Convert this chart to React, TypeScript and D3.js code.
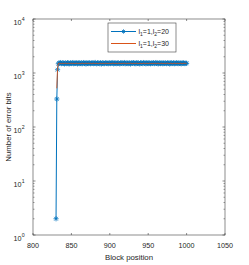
import * as d3 from 'd3';

const BLUE = '#0072BD';
const ORANGE = '#D95319';

// block positions where the curves start
const blueStart = [830, 831, 832];
const blueStartValues = [2, 330, 1150];
const orangeStart = [831, 832];
const orangeStartValues = [520, 1200];

// plateau from block 833 to 1000
const plateauStart = 833;
const bluePlateau = [
  1480, 1530, 1510, 1560, 1490, 1520, 1545, 1500, 1475, 1535,
  1515, 1490, 1550, 1525, 1470, 1505, 1540, 1495, 1520, 1560,
  1485, 1510, 1530, 1500, 1545, 1475, 1520, 1555, 1490, 1505,
  1535, 1480, 1515, 1560, 1500, 1525, 1470, 1540, 1510, 1495,
  1550, 1520, 1485, 1530, 1505, 1545, 1490, 1515, 1565, 1500,
  1480, 1535, 1510, 1525, 1495, 1550, 1470, 1520, 1540, 1505,
  1490, 1530, 1555, 1500, 1515, 1485, 1545, 1520, 1495, 1535,
  1510, 1560, 1480, 1525, 1500, 1540, 1490, 1515, 1550, 1505,
  1475, 1530, 1520, 1545, 1495, 1510, 1560, 1485, 1535, 1500,
  1525, 1490, 1545, 1515, 1470, 1540, 1505, 1530, 1555, 1495,
  1520, 1485, 1550, 1510, 1535, 1500, 1475, 1545, 1515, 1525,
  1490, 1560, 1505, 1530, 1480, 1540, 1520, 1495, 1550, 1510,
  1485, 1535, 1500, 1525, 1545, 1490, 1515, 1560, 1505, 1530,
  1475, 1520, 1540, 1495, 1510, 1550, 1485, 1525, 1500, 1535,
  1515, 1490, 1545, 1505, 1530, 1470, 1520, 1555, 1495, 1510,
  1540, 1485, 1525, 1500, 1550, 1515, 1490, 1535, 1505, 1520,
  1480, 1545, 1510, 1530, 1495, 1525, 1500, 1515,
];
const orangePlateau = [
  1510, 1500, 1520, 1505, 1495, 1515, 1510, 1490, 1505, 1520,
  1500, 1510, 1495, 1515, 1505, 1490, 1510, 1520, 1500, 1505,
  1515, 1495, 1500, 1510, 1520, 1490, 1505, 1515, 1500, 1495,
  1510, 1505, 1520, 1500, 1490, 1515, 1505, 1510, 1495, 1520,
  1500, 1505, 1515, 1490, 1510, 1500, 1520, 1505, 1495, 1510,
  1515, 1500, 1490, 1505, 1520, 1510, 1495, 1500, 1515, 1505,
  1490, 1510, 1520, 1500, 1505, 1495, 1515, 1510, 1500, 1490,
  1505, 1520, 1510, 1495, 1500, 1515, 1505, 1490, 1510, 1520,
  1500, 1505, 1495, 1515, 1510, 1500, 1520, 1490, 1505, 1510,
  1495, 1515, 1500, 1505, 1520, 1510, 1490, 1500, 1515, 1505,
  1495, 1510, 1520, 1500, 1505, 1490, 1515, 1510, 1500, 1495,
  1505, 1520, 1510, 1500, 1490, 1515, 1505, 1495, 1510, 1520,
  1500, 1505, 1515, 1490, 1510, 1500, 1520, 1505, 1495, 1510,
  1515, 1500, 1490, 1505, 1520, 1510, 1495, 1500, 1515, 1505,
  1490, 1510, 1520, 1500, 1505, 1495, 1515, 1510, 1500, 1490,
  1505, 1520, 1510, 1495, 1500, 1515, 1505, 1490, 1510, 1520,
  1500, 1505, 1495, 1515, 1510, 1500, 1520, 1490,
];

const xTicks = [800, 850, 900, 950, 1000, 1050];
const yExponents = [0, 1, 2, 3, 4];
const legendLabels = [
  { color: BLUE, l1: '1', l2: '20', marker: true },
  { color: ORANGE, l1: '1', l2: '30', marker: false },
];

type Pt = [number, number];

function buildSeries(startX: number[], startY: number[], plateau: number[]): Pt[] {
  const pts: Pt[] = startX.map((x, i) => [x, startY[i]]);
  plateau.forEach((v, i) => pts.push([plateauStart + i, v]));
  return pts;
}

const blueData = buildSeries(blueStart, blueStartValues, bluePlateau);
const orangeData = buildSeries(orangeStart, orangeStartValues, orangePlateau);

const W = 249;
const H = 265;
const left = 33;
const right = 225;
const top = 19;
const bottom = 235;
const AXIS = '#404040';
const FONT = 'Liberation Sans, Arial, sans-serif';

function Star({ x, y, r, color }: { x: number; y: number; r: number; color: string }) {
  const d = [0, 45, 90, 135]
    .map(a => {
      const rad = (a * Math.PI) / 180;
      const dx = Math.cos(rad) * r;
      const dy = Math.sin(rad) * r;
      return `M${x - dx},${y - dy}L${x + dx},${y + dy}`;
    })
    .join('');
  return <path d={d} stroke={color} strokeWidth={0.8} fill="none" />;
}

export default function App() {
  const x = d3.scaleLinear().domain([800, 1050]).range([left, right]);
  const y = d3.scaleLog().domain([1, 1e4]).range([bottom, top]);
  const line = d3
    .line<Pt>()
    .x(d => x(d[0]))
    .y(d => y(d[1]));

  const minor: number[] = [];
  for (let e = 0; e < 4; e++) for (let m = 2; m <= 9; m++) minor.push(m * Math.pow(10, e));

  return (
    <svg
      width={W}
      height={H}
      style={{ position: 'absolute', left: 0, top: 0, background: 'white', fontFamily: FONT }}
    >
      <rect x={0} y={0} width={W} height={H} fill="white" />

      {/* data */}
      <path d={line(blueData) ?? ''} fill="none" stroke={BLUE} strokeWidth={1} />
      {blueData.map((d, i) => (
        <Star key={i} x={x(d[0])} y={y(d[1])} r={2.6} color={BLUE} />
      ))}
      <path d={line(orangeData) ?? ''} fill="none" stroke={ORANGE} strokeWidth={0.9} />

      {/* box */}
      <rect
        x={left}
        y={top}
        width={right - left}
        height={bottom - top}
        fill="none"
        stroke={AXIS}
        strokeWidth={0.6}
      />

      {/* x ticks */}
      {xTicks.map(t => (
        <g key={t}>
          <line x1={x(t)} x2={x(t)} y1={bottom} y2={bottom - 2} stroke={AXIS} strokeWidth={0.6} />
          <line x1={x(t)} x2={x(t)} y1={top} y2={top + 2} stroke={AXIS} strokeWidth={0.6} />
          <text x={x(t)} y={248} fontSize={7.2} textAnchor="middle" fill="#262626">
            {t}
          </text>
        </g>
      ))}

      {/* y ticks */}
      {yExponents.map(e => {
        const yy = y(Math.pow(10, e));
        return (
          <g key={e}>
            <line x1={left} x2={left + 2.5} y1={yy} y2={yy} stroke={AXIS} strokeWidth={0.6} />
            <line x1={right} x2={right - 2.5} y1={yy} y2={yy} stroke={AXIS} strokeWidth={0.6} />
            <text x={21.5} y={yy + 5.5} fontSize={7.2} textAnchor="end" fill="#262626">
              10
            </text>
            <text x={21.8} y={yy + 1.5} fontSize={5.2} fill="#262626">
              {e}
            </text>
          </g>
        );
      })}
      {minor.map(v => (
        <g key={v}>
          <line x1={left} x2={left + 1.5} y1={y(v)} y2={y(v)} stroke={AXIS} strokeWidth={0.5} />
          <line x1={right} x2={right - 1.5} y1={y(v)} y2={y(v)} stroke={AXIS} strokeWidth={0.5} />
        </g>
      ))}

      {/* axis labels */}
      <text x={(left + right) / 2} y={260} fontSize={7.8} textAnchor="middle" fill="#262626">
        Block position
      </text>
      <text
        transform={`translate(10.5,${(top + bottom) / 2}) rotate(-90)`}
        fontSize={7.8}
        textAnchor="middle"
        fill="#262626"
      >
        Number of error bits
      </text>

      {/* legend */}
      <rect x={108} y={23} width={68} height={29} fill="white" stroke={AXIS} strokeWidth={0.6} />
      {legendLabels.map((l, i) => {
        const ly = 31.5 + i * 12;
        return (
          <g key={i}>
            <line x1={111} x2={136} y1={ly} y2={ly} stroke={l.color} strokeWidth={1} />
            {l.marker && <Star x={123.5} y={ly} r={2.2} color={l.color} />}
            <text x={138.5} y={ly + 2.5} fontSize={7} fill="#262626">
              l<tspan fontSize={5} dy={1.5}>1</tspan>
              <tspan dy={-1.5}>=1,l</tspan>
              <tspan fontSize={5} dy={1.5}>2</tspan>
              <tspan dy={-1.5}>={l.l2}</tspan>
            </text>
          </g>
        );
      })}
    </svg>
  );
}
